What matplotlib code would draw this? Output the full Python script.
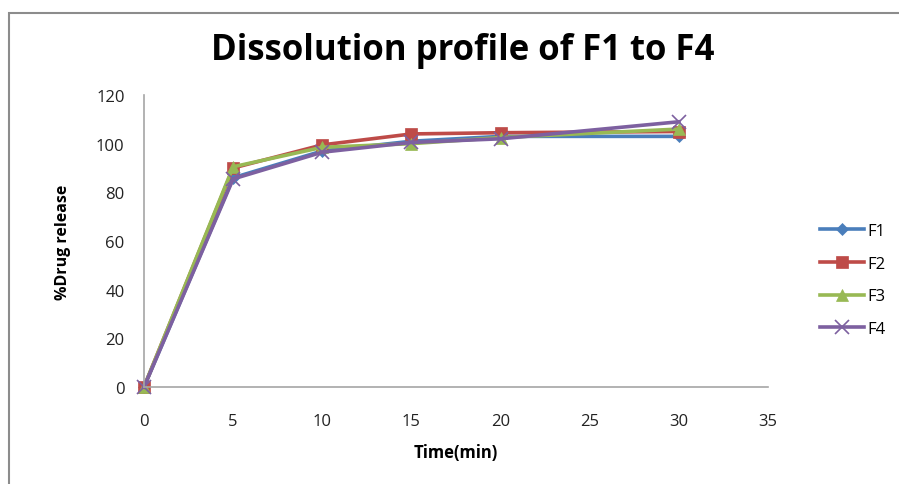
import matplotlib.pyplot as plt
from matplotlib.patches import Rectangle

time_min = [0, 5, 10, 15, 20, 30]
f1 = [0, 86, 97, 101, 103, 103]
f2 = [0, 90, 99.5, 104, 104.5, 105]
f3 = [0, 90.5, 98.5, 100, 102.5, 106]
f4 = [0, 85.5, 96.5, 100.5, 102, 109]
series_names = ['F1', 'F2', 'F3', 'F4']

colors = ['#4a7ebb', '#be4b48', '#98b954', '#7d60a0']
markers = ['D', 's', '^', 'x']
msizes = [6, 9, 9, 10]

plt.rcParams['font.family'] = ['Open Sans', 'DejaVu Sans']

fig = plt.figure(figsize=(8.99, 4.85), dpi=100)
ax = fig.add_axes([144 / 899, 1 - 388 / 485, 624 / 899, 292 / 485])

# outer chart border (only left/top visible in the crop)
fig.patches.append(Rectangle((8.5 / 899, -0.2), 1.2, 1.2 - 13.5 / 485,
                             transform=fig.transFigure, fill=False,
                             edgecolor='#8c8c8c', lw=1.5))

for name, vals, c, m, ms in zip(series_names, [f1, f2, f3, f4], colors, markers, msizes):
    ax.plot(time_min, vals, color=c, lw=2.6, marker=m, markersize=ms,
            markeredgewidth=1.2 if m == 'x' else 0.5, label=name, clip_on=False)

ax.set_xlim(0, 35)
ax.set_ylim(0, 120)
ax.set_xticks(range(0, 36, 5))
ax.set_yticks(range(0, 121, 20))
ax.tick_params(length=0, labelsize=12, colors='#222222')
ax.tick_params(axis='x', pad=19)
ax.tick_params(axis='y', pad=14)
for s in ['top', 'right']:
    ax.spines[s].set_visible(False)
for s in ['left', 'bottom']:
    ax.spines[s].set_color('#a6a6a6')
    ax.spines[s].set_linewidth(1.2)

ax.set_xlabel('Time(min)', fontsize=12, fontweight='bold', labelpad=10)
ax.set_ylabel('%Drug release', fontsize=11.5, fontweight='bold', labelpad=18)

fig.text(463 / 899, 1 - 51 / 485, 'Dissolution profile of F1 to F4',
         ha='center', va='center', fontsize=25, fontweight='bold')

leg = ax.legend(loc='center left', bbox_to_anchor=(1.06, 0.366), frameon=False,
                fontsize=12, labelspacing=1.0, handlelength=2.6, handletextpad=0.2)

plt.savefig('out.png', dpi=100)
